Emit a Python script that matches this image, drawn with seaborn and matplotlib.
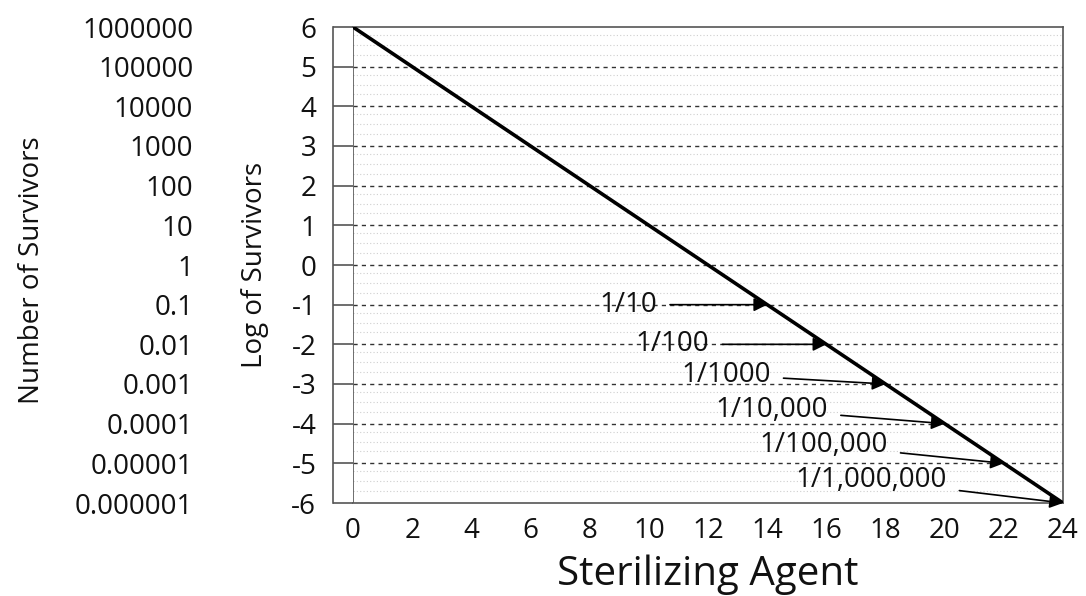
import matplotlib
matplotlib.use("Agg")
import matplotlib.pyplot as plt
import seaborn as sns
import pandas as pd

# data
agent = [0, 2, 4, 6, 8, 10, 12, 14, 16, 18, 20, 22, 24]
log_survivors = [6, 5, 4, 3, 2, 1, 0, -1, -2, -3, -4, -5, -6]
log_ticks = [6, 5, 4, 3, 2, 1, 0, -1, -2, -3, -4, -5, -6]
survivor_labels = ["1000000", "100000", "10000", "1000", "100", "10", "1",
                   "0.1", "0.01", "0.001", "0.0001", "0.00001", "0.000001"]
x_ticks = [0, 2, 4, 6, 8, 10, 12, 14, 16, 18, 20, 22, 24]

fraction_labels = ["1/10", "1/100", "1/1000", "1/10,000", "1/100,000", "1/1,000,000"]
fraction_x = [14, 16, 18, 20, 22, 24]
fraction_y = [-1, -2, -3, -4, -5, -6]
# where the annotation texts sit (data coords)
text_x = [9.3, 10.8, 12.6, 14.15, 15.9, 17.5]
text_y = [-1.0, -2.0, -2.77, -3.65, -4.54, -5.42]

sns.set_style("white")
plt.rcParams['font.family'] = ['Open Sans', 'DejaVu Sans']
plt.rcParams['axes.unicode_minus'] = False
ink = "#111111"
frame = "#555555"
fs = 20

df = pd.DataFrame({"agent": agent, "log": log_survivors})

fig = plt.figure(figsize=(10.86, 5.96), dpi=100)
ax = fig.add_axes([353 / 1086, 93 / 596, 710 / 1086, 476 / 596])

# faint scan-like dotted texture plus dashed major grid
for v in [y + d for y in range(-6, 6) for d in (0.3, 0.55, 0.8)]:
    ax.axhline(v, color="#cfcfcf", lw=0.8, ls=(0, (1, 2)), zorder=0)
for y in log_ticks[1:-1]:
    ax.axhline(y, color="#333333", lw=1.0, ls=(0, (3, 3)), zorder=1)

sns.lineplot(data=df, x="agent", y="log", color="black", lw=2.6, ax=ax, zorder=3)

ax.set_xlim(0, 24)
ax.set_ylim(-6, 6)
ax.axvline(0, color=frame, lw=1.2, zorder=2)

for s in ax.spines.values():
    s.set_color(frame)
    s.set_linewidth(1.2)
ax.spines['left'].set_position(('outward', 14.4))

ax.set_yticks(log_ticks)
ax.tick_params(axis='y', direction='in', length=14.4, width=1.2, color=frame,
               pad=12, labelsize=fs, labelcolor=ink)
ax.set_xticks(x_ticks)
ax.tick_params(axis='x', direction='in', length=6, width=1.2, color=frame,
               pad=10, labelsize=fs, labelcolor=ink)

ax.set_ylabel("Log of Survivors", fontsize=fs, color=ink)
ax.yaxis.set_label_coords(-0.119, 0.5)
ax.set_xlabel("Sterilizing Agent", fontsize=29, color=ink, va='center')
ax.xaxis.set_label_coords(0.5, -0.151)

# second label column: number of survivors
ax2 = ax.twinx()
ax2.set_ylim(-6, 6)
ax2.yaxis.set_ticks_position('left')
ax2.yaxis.set_label_position('left')
ax2.spines['left'].set_position(('outward', 115))
for s in ax2.spines.values():
    s.set_visible(False)
ax2.set_yticks(log_ticks)
ax2.set_yticklabels(survivor_labels)
ax2.tick_params(axis='y', length=0, pad=0, labelsize=fs, labelcolor=ink)
ax2.set_ylabel("Number of Survivors", fontsize=fs, color=ink)
ax2.yaxis.set_label_coords(-0.433, 0.49)

for lab, px, py, tx, ty in zip(fraction_labels, fraction_x, fraction_y, text_x, text_y):
    ax.annotate(lab, xy=(px, py), xytext=(tx, ty), ha='center', va='center',
                fontsize=fs, color=ink, zorder=4,
                arrowprops=dict(arrowstyle='-|>', color='black', lw=1.2,
                                mutation_scale=20, shrinkA=7, shrinkB=0))

fig.savefig("out.png", dpi=100, facecolor="white")
